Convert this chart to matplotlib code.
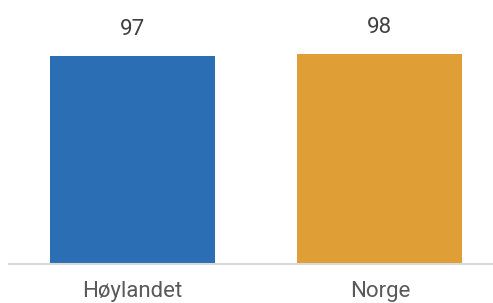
import matplotlib
matplotlib.use("Agg")
import matplotlib.pyplot as plt

categories = ["Høylandet", "Norge"]
values = [97, 98]
colors = ["#2B6EB3", "#DF9E36"]

plt.rcParams['font.family'] = ['Roboto', 'DejaVu Sans']

fig = plt.figure(figsize=(4.93, 3.03), dpi=100)
ax = fig.add_axes([8.75/493, 39/303, 484.25/493, 264/303])
x = range(len(categories))
bars = ax.bar(x, values, width=0.667, color=colors)
ax.set_xlim(-0.5, 1.457)
ax.set_ylim(0, 123.1)
for b, v in zip(bars, values):
    ax.annotate(f"{v}", (b.get_x() + b.get_width()/2, v), xytext=(0, 16),
                textcoords="offset pixels", ha="center", va="bottom",
                fontsize=16, color="#404040")
ax.set_xticks(list(x))
ax.set_xticklabels(categories, fontsize=16, color="#595959")
ax.tick_params(axis="x", length=0, pad=12)
ax.set_yticks([])
for s in ["top", "right", "left"]:
    ax.spines[s].set_visible(False)
ax.spines["bottom"].set_color("#D9D9D9")
ax.spines["bottom"].set_linewidth(1.5)
fig.savefig("out.png", dpi=100)
